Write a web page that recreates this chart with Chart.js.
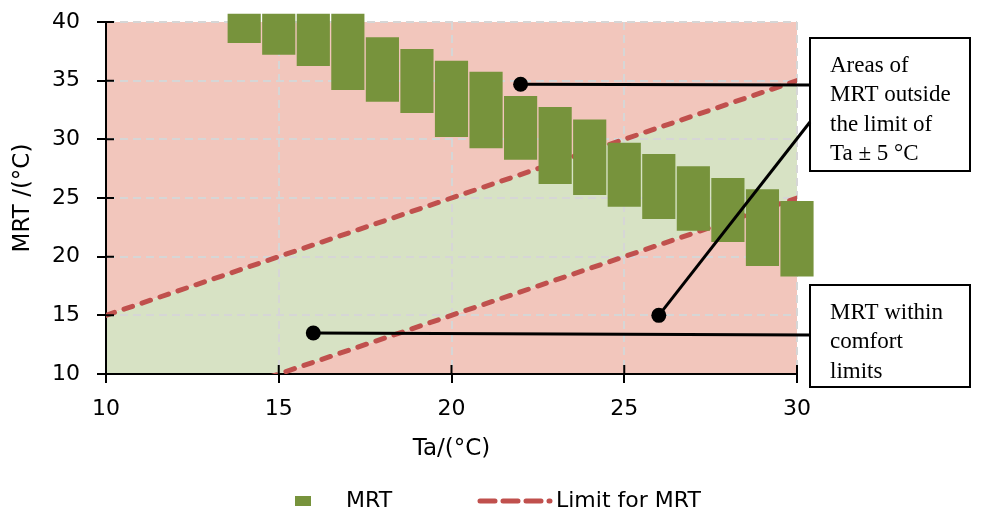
<!DOCTYPE html>
<html>
<head>
<meta charset="utf-8">
<script src="https://cdn.jsdelivr.net/npm/chart.js@4.4.0/dist/chart.umd.min.js"></script>
<style>
  html, body { margin: 0; padding: 0; background: #fff; }
</style>
</head>
<body>
<canvas id="myChart" width="981" height="514"></canvas>
<script>
// air temperature (x) and the MRT range measured at each step
const taValues = [14, 15, 16, 17, 18, 19, 20, 21, 22, 23, 24, 25, 26, 27, 28, 29, 30];
const mrtLow = [38.2, 37.2, 36.25, 34.2, 33.2, 32.25, 30.2, 29.25, 28.25, 26.2, 25.25, 24.25, 23.2, 22.2, 21.25, 19.2, 18.3];
const mrtHigh = [40.7, 40.7, 40.7, 40.7, 38.7, 37.7, 36.7, 35.75, 33.7, 32.75, 31.7, 29.7, 28.75, 27.7, 26.7, 25.75, 24.75];

// comfort limits: Ta + 5 and Ta - 5
const limitTa = [10, 30];
const limitUpper = [15, 35];
const limitLower = [5, 25];

const xTicks = [10, 15, 20, 25, 30];
const yTicks = [10, 15, 20, 25, 30, 35, 40];

// callout anchors (Ta, MRT) and their texts
const noteTa = [22, 26, 16];
const noteMrt = [34.7, 15, 13.5];
const noteTexts = [
  ["Areas of", "MRT outside", "the limit of", "Ta \u00b1 5 \u00b0C"],
  ["MRT within", "comfort", "limits"],
];

const barGreen = "#77933C";
const limitRed = "#C0504D";
const outsidePink = "#F2C6BC";
const insideGreen = "#D7E2C4";
const sans = "'DejaVu Sans', sans-serif";

const ctx = document.getElementById("myChart").getContext("2d");

const toPoints = (xs, ys) => xs.map((x, i) => ({ x: x, y: ys[i] }));

const callouts = {
  id: "callouts",
  afterDraw(chart) {
    const { ctx, chartArea, scales } = chart;
    const sx = scales.x;
    const sy = scales.y;
    ctx.save();

    // inner half of the cross ticks
    ctx.strokeStyle = "#000";
    ctx.lineWidth = 2;
    ctx.beginPath();
    yTicks.forEach((v) => {
      const py = sy.getPixelForValue(v);
      ctx.moveTo(chartArea.left, py);
      ctx.lineTo(chartArea.left + 8, py);
    });
    xTicks.forEach((v) => {
      const px = sx.getPixelForValue(v);
      ctx.moveTo(px, chartArea.bottom);
      ctx.lineTo(px, chartArea.bottom - 9);
    });
    ctx.stroke();

    // text boxes to the right of the plot
    const bx = chartArea.right + 13;
    const bw = 160;
    const boxes = [
      { top: chartArea.top + 16, h: 133 },
      { top: chartArea.top + 263, h: 102 },
    ];
    ctx.lineWidth = 2;
    ctx.fillStyle = "#fff";
    boxes.forEach((b, i) => {
      ctx.fillRect(bx, b.top, bw, b.h);
      ctx.strokeRect(bx, b.top, bw, b.h);
      ctx.fillStyle = "#000";
      ctx.font = "23px 'Liberation Serif', serif";
      ctx.textBaseline = "alphabetic";
      noteTexts[i].forEach((t, j) => {
        ctx.fillText(t, bx + 20, b.top + 34 + j * 29.3);
      });
      ctx.fillStyle = "#fff";
    });

    // leader lines from the anchors to the boxes
    const ends = [boxes[0].top + 47, boxes[0].top + 84, boxes[1].top + 50];
    ctx.strokeStyle = "#000";
    ctx.fillStyle = "#000";
    ctx.lineWidth = 3;
    noteTa.forEach((ta, i) => {
      const px = sx.getPixelForValue(ta);
      const py = sy.getPixelForValue(noteMrt[i]);
      ctx.beginPath();
      ctx.moveTo(px, py);
      ctx.lineTo(bx, ends[i]);
      ctx.stroke();
      ctx.beginPath();
      ctx.arc(px, py, 7.5, 0, Math.PI * 2);
      ctx.fill();
    });

    // legend
    const ly = 501;
    const mrtSet = chart.data.datasets[0];
    const limSet = chart.data.datasets[1];
    ctx.fillStyle = mrtSet.backgroundColor;
    ctx.fillRect(295, ly - 5, 16, 10);
    ctx.fillStyle = "#000";
    ctx.font = "22px " + sans;
    ctx.textBaseline = "middle";
    ctx.fillText(mrtSet.label, 346, ly);
    ctx.strokeStyle = limSet.borderColor;
    ctx.lineWidth = 5;
    ctx.lineCap = "round";
    ctx.setLineDash([15, 8]);
    ctx.beginPath();
    ctx.moveTo(480, ly);
    ctx.lineTo(550, ly);
    ctx.stroke();
    ctx.setLineDash([]);
    ctx.fillText(limSet.label, 556, ly);

    ctx.restore();
  },
};

const myChart = new Chart(ctx, {
  type: "bar",
  data: {
    datasets: [
      {
        label: "MRT",
        data: taValues.map((x, i) => ({ x: x, y: [mrtLow[i], mrtHigh[i]] })),
        backgroundColor: barGreen,
        borderWidth: 0,
        barPercentage: 0.96,
        categoryPercentage: 1,
        clip: false,
        order: 0,
      },
      {
        type: "line",
        label: "Limit for MRT",
        data: toPoints(limitTa, limitUpper),
        borderColor: limitRed,
        borderWidth: 5,
        borderDash: [9, 10],
        borderCapStyle: "round",
        backgroundColor: insideGreen,
        fill: 2,
        pointRadius: 0,
        order: 1,
      },
      {
        type: "line",
        label: "Limit for MRT",
        data: toPoints(limitTa, limitLower),
        borderColor: limitRed,
        borderWidth: 5,
        borderDash: [9, 10],
        borderCapStyle: "round",
        backgroundColor: outsidePink,
        fill: "start",
        pointRadius: 0,
        order: 1,
      },
      {
        type: "line",
        label: "",
        data: toPoints(limitTa, limitUpper),
        borderColor: "transparent",
        borderWidth: 0,
        backgroundColor: outsidePink,
        fill: "end",
        pointRadius: 0,
        order: 2,
      },
    ],
  },
  options: {
    responsive: false,
    animation: false,
    layout: { padding: { left: 0, top: 22, right: 184, bottom: 40 } },
    plugins: {
      legend: { display: false },
      tooltip: { enabled: false },
      filler: { drawTime: "beforeDraw" },
    },
    scales: {
      x: {
        type: "linear",
        min: 10,
        max: 30,
        offset: false,
        afterFit: (scale) => { scale.height = 100; },
        afterBuildTicks: (scale) => { scale.ticks = xTicks.map((v) => ({ value: v })); },
        ticks: { color: "#000", padding: 13, font: { family: sans, size: 22 } },
        grid: {
          offset: false,
          color: "#D6D6D6",
          lineWidth: 2,
          tickColor: "#000",
          tickWidth: 2,
          tickLength: 9,
        },
        border: { color: "#000", width: 2, dash: [8, 5] },
        title: {
          display: true,
          text: "Ta/(\u00b0C)",
          color: "#000",
          padding: { top: 0, bottom: 11 },
          font: { family: sans, size: 23 },
        },
      },
      y: {
        min: 10,
        max: 40,
        afterFit: (scale) => { scale.width = 106; },
        afterBuildTicks: (scale) => { scale.ticks = yTicks.map((v) => ({ value: v })); },
        ticks: { color: "#000", padding: 17, font: { family: sans, size: 22, lineHeight: 0.4 } },
        grid: {
          color: "#D6D6D6",
          lineWidth: 2,
          tickColor: "#000",
          tickWidth: 2,
          tickLength: 9,
        },
        border: { color: "#000", width: 2, dash: [8, 5] },
        title: {
          display: true,
          text: "MRT /(\u00b0C)",
          color: "#000",
          padding: { top: 9, bottom: 0 },
          font: { family: sans, size: 23 },
        },
      },
    },
  },
  plugins: [callouts],
});
</script>
</body>
</html>
